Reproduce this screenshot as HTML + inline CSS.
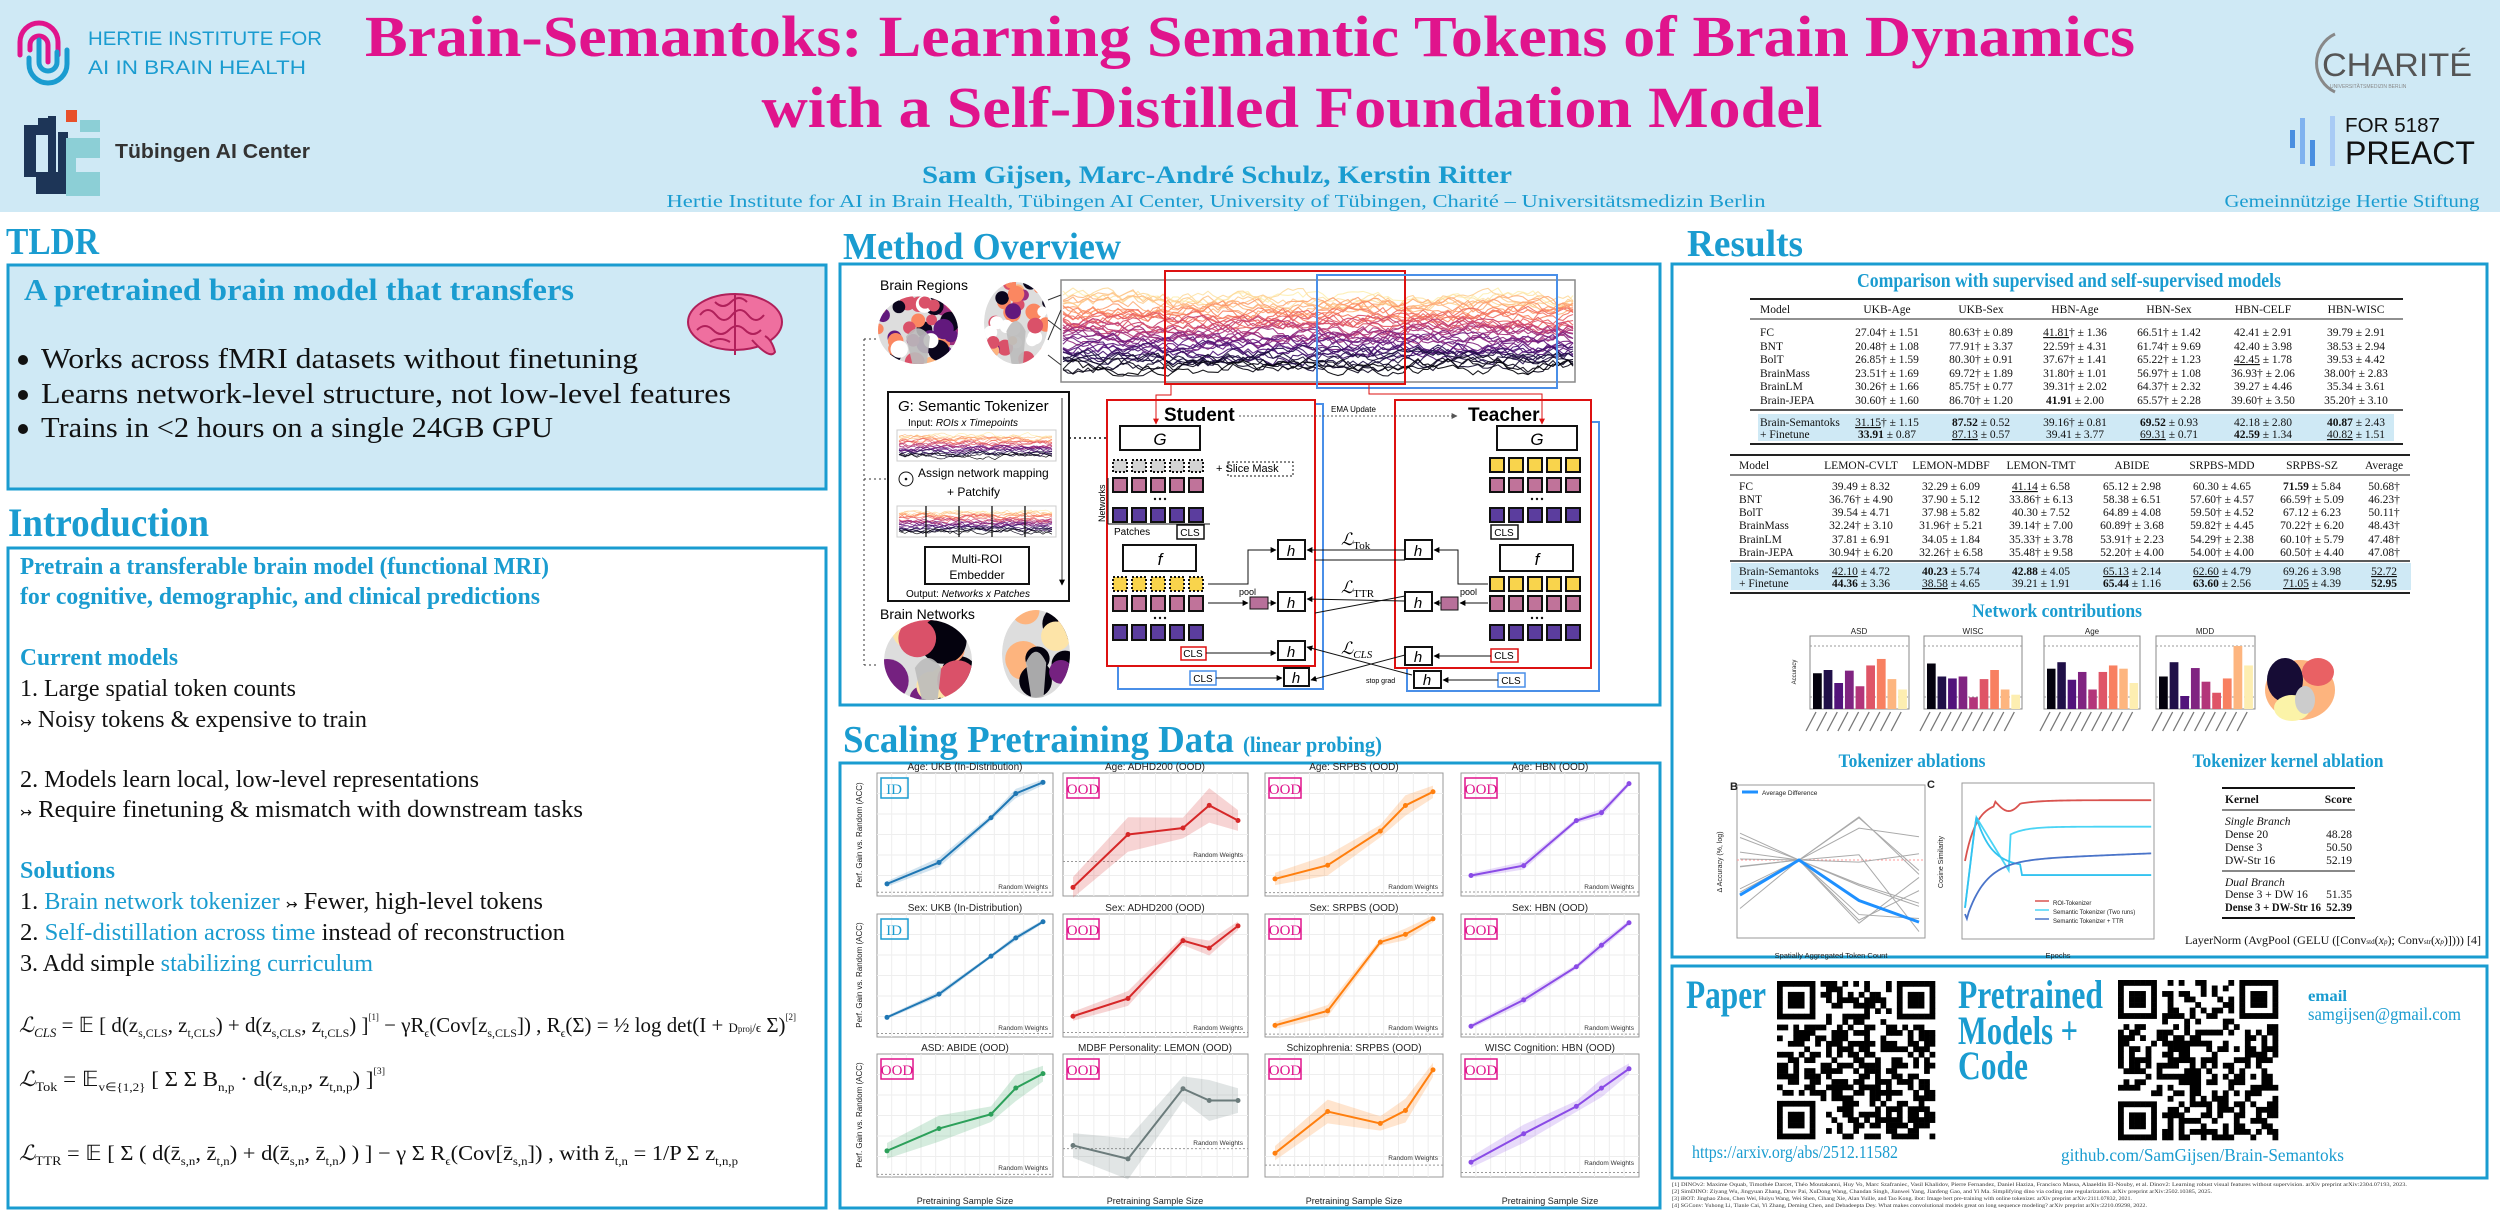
<!DOCTYPE html>
<html><head><meta charset="utf-8"><style>
html,body{margin:0;padding:0;background:#fff;width:2500px;height:1216px;overflow:hidden}
svg{display:block}
</style></head><body>
<svg id="s" xmlns="http://www.w3.org/2000/svg" width="2500" height="1216" viewBox="0 0 2500 1216" font-family="Liberation Serif, serif">
<defs>
<marker id="ar" viewBox="0 0 10 10" refX="9" refY="5" markerWidth="6" markerHeight="6" orient="auto"><path d="M0,0L10,5L0,10z" fill="#000"/></marker>
<marker id="arr" viewBox="0 0 10 10" refX="9" refY="5" markerWidth="6" markerHeight="6" orient="auto"><path d="M0,0L10,5L0,10z" fill="#d11"/></marker>
<marker id="arg" viewBox="0 0 10 10" refX="9" refY="5" markerWidth="6" markerHeight="6" orient="auto"><path d="M0,0L10,5L0,10z" fill="#555"/></marker>
</defs>
<!-- HEADER -->
<rect x="0" y="0" width="2500" height="212" fill="#cfe9f5"/>
<g fill="none" stroke-width="5" stroke-linecap="round">
<path d="M20,55 L20,42 A19,19 0 0 1 58,42 L58,55" stroke="#e0148c"/>
<path d="M30,50 L30,45 A9,9 0 0 1 48,45 L48,62" stroke="#e0148c"/>
<path d="M39,40 L39,62 A9,9 0 0 0 57,62 L57,52" stroke="#1a9cd0"/>
<path d="M29,58 L29,64 A19,19 0 0 0 67,64 L67,50" stroke="#1a9cd0"/>
</g>
<text x="88" y="45" font-family="Liberation Sans, sans-serif" font-size="19" fill="#1a9cd0" textLength="234" lengthAdjust="spacingAndGlyphs">HERTIE INSTITUTE FOR</text>
<text x="88" y="74" font-family="Liberation Sans, sans-serif" font-size="19" fill="#1a9cd0" textLength="218" lengthAdjust="spacingAndGlyphs">AI IN BRAIN HEALTH</text>
<g>
<rect x="24" y="125" width="12" height="52" fill="#1d3557"/><rect x="24" y="125" width="26" height="10" fill="#1d3557"/>
<rect x="38" y="118" width="12" height="14" fill="#1d3557"/><rect x="48" y="116" width="8" height="60" fill="#1d3557"/>
<rect x="36" y="172" width="32" height="22" fill="#1d3557"/><rect x="58" y="132" width="10" height="60" fill="#1d3557"/>
<rect x="66" y="110" width="11" height="12" fill="#e8502a"/>
<rect x="80" y="120" width="20" height="12" fill="#8ccfd6"/><rect x="66" y="138" width="34" height="58" fill="#8ccfd6"/>
<rect x="76" y="158" width="24" height="14" fill="#cfe9f5"/>
</g>
<text x="115" y="158" font-family="Liberation Sans, sans-serif" font-size="20" font-weight="bold" fill="#333" textLength="195" lengthAdjust="spacingAndGlyphs">Tübingen AI Center</text>
<text x="1250" y="56" text-anchor="middle" font-size="58" font-weight="bold" fill="#e0148c" textLength="1770" lengthAdjust="spacingAndGlyphs">Brain-Semantoks: Learning Semantic Tokens of Brain Dynamics</text>
<text x="1292" y="127" text-anchor="middle" font-size="58" font-weight="bold" fill="#e0148c" textLength="1061" lengthAdjust="spacingAndGlyphs">with a Self-Distilled Foundation Model</text>
<text x="1217" y="183" text-anchor="middle" font-size="25" font-weight="bold" fill="#1a9cd0" textLength="590" lengthAdjust="spacingAndGlyphs">Sam Gijsen, Marc-André Schulz, Kerstin Ritter</text>
<text x="1216" y="207" text-anchor="middle" font-size="18" fill="#1a9cd0" textLength="1099" lengthAdjust="spacingAndGlyphs">Hertie Institute for AI in Brain Health, Tübingen AI Center, University of Tübingen,  Charité – Universitätsmedizin Berlin</text>
<text x="2352" y="207" text-anchor="middle" font-size="18" fill="#1a9cd0" textLength="255" lengthAdjust="spacingAndGlyphs">Gemeinnützige Hertie Stiftung</text>
<path d="M2335,34 A32,32 0 0 0 2335,92" fill="none" stroke="#888" stroke-width="3"/>
<text x="2322" y="76" font-family="Liberation Sans, sans-serif" font-size="32" fill="#555" textLength="150" lengthAdjust="spacingAndGlyphs">CHARITÉ</text>
<text x="2330" y="88" font-family="Liberation Sans, sans-serif" font-size="5" fill="#888">UNIVERSITÄTSMEDIZIN BERLIN</text>
<rect x="2290" y="130" width="5" height="18" fill="#4a8fe0"/><rect x="2300" y="118" width="5" height="46" fill="#7fb2ef"/><rect x="2310" y="140" width="5" height="26" fill="#4a8fe0"/><rect x="2330" y="116" width="5" height="50" fill="#a8cbf5"/>
<text x="2345" y="132" font-family="Liberation Sans, sans-serif" font-size="20" fill="#111" textLength="95" lengthAdjust="spacingAndGlyphs">FOR 5187</text>
<text x="2345" y="164" font-family="Liberation Sans, sans-serif" font-size="32" fill="#111" textLength="130" lengthAdjust="spacingAndGlyphs">PREACT</text>

<!-- SECTION TITLES -->
<g font-weight="bold" fill="#1a9cd0">
<text x="6" y="254" font-size="38" textLength="93" lengthAdjust="spacingAndGlyphs">TLDR</text>
<text x="8" y="536" font-size="40" textLength="201" lengthAdjust="spacingAndGlyphs">Introduction</text>
<text x="843" y="259" font-size="38" textLength="278" lengthAdjust="spacingAndGlyphs">Method Overview</text>
<text x="843" y="752" font-size="38" textLength="391" lengthAdjust="spacingAndGlyphs">Scaling Pretraining Data</text>
<text x="1243" y="752" font-size="22" textLength="139" lengthAdjust="spacingAndGlyphs">(linear probing)</text>
<text x="1687" y="256" font-size="38" textLength="116" lengthAdjust="spacingAndGlyphs">Results</text>
</g>

<!-- BOXES -->
<g fill="none" stroke="#1a9cd0" stroke-width="3">
<rect x="8" y="265" width="818" height="224" fill="#cfe9f5"/>
<rect x="8" y="548" width="818" height="660"/>
<rect x="840" y="264" width="820" height="441"/>
<rect x="840" y="763" width="820" height="445"/>
<rect x="1672" y="264" width="815" height="693"/>
<rect x="1672" y="966" width="815" height="212"/>
</g>

<!-- TLDR -->
<text x="24" y="300" font-size="31" font-weight="bold" fill="#1a9cd0" textLength="550" lengthAdjust="spacingAndGlyphs">A pretrained brain model that transfers</text>
<g font-size="28" fill="#111">
<circle cx="23" cy="360" r="5" fill="#111"/><circle cx="23" cy="395" r="5" fill="#111"/><circle cx="23" cy="429" r="5" fill="#111"/>
<text x="41" y="368" textLength="597" lengthAdjust="spacingAndGlyphs">Works across fMRI datasets without finetuning</text>
<text x="41" y="403" textLength="690" lengthAdjust="spacingAndGlyphs">Learns network-level structure, not low-level features</text>
<text x="41" y="437" textLength="512" lengthAdjust="spacingAndGlyphs">Trains in &lt;2 hours on a single 24GB GPU</text>
</g>
<g>
<ellipse cx="735" cy="322" rx="47" ry="28" fill="#ef6f9f" stroke="#b0205a" stroke-width="2"/>
<path d="M752,340 Q770,360 775,352 Q772,340 765,336" fill="#ef6f9f" stroke="#b0205a" stroke-width="2"/>
<path d="M700,315 q8,-10 16,0 q8,10 16,0 q8,-10 16,0 q8,10 16,0 M697,330 q8,-8 16,0 q8,8 16,0 q8,-8 16,0 q8,8 16,0 M715,302 q8,8 16,0 q8,-8 16,0 M735,295 v60 M710,342 q10,-6 20,0" fill="none" stroke="#b0205a" stroke-width="2"/>
</g>

<!-- INTRO -->
<g font-size="24" fill="#1a9cd0" font-weight="bold">
<text x="20" y="574" textLength="529" lengthAdjust="spacingAndGlyphs">Pretrain a transferable brain model (functional MRI)</text>
<text x="20" y="604" textLength="520" lengthAdjust="spacingAndGlyphs">for cognitive, demographic, and clinical predictions</text>
<text x="20" y="665" textLength="158" lengthAdjust="spacingAndGlyphs">Current models</text>
<text x="20" y="878" textLength="95" lengthAdjust="spacingAndGlyphs">Solutions</text>
</g>
<g font-size="24" fill="#111">
<text x="20" y="696" textLength="276" lengthAdjust="spacingAndGlyphs">1. Large spatial token counts</text>
<text x="20" y="727" textLength="347" lengthAdjust="spacingAndGlyphs"><tspan font-family="DejaVu Sans" font-size="14">↣</tspan> Noisy tokens &amp; expensive to train</text>
<text x="20" y="787" textLength="459" lengthAdjust="spacingAndGlyphs">2. Models learn local, low-level representations</text>
<text x="20" y="817" textLength="563" lengthAdjust="spacingAndGlyphs"><tspan font-family="DejaVu Sans" font-size="14">↣</tspan> Require finetuning &amp; mismatch with downstream tasks</text>
<text x="20" y="909" textLength="523" lengthAdjust="spacingAndGlyphs">1. <tspan fill="#1a9cd0">Brain network tokenizer</tspan> <tspan font-family="DejaVu Sans" font-size="14">↣</tspan> Fewer, high-level tokens</text>
<text x="20" y="940" textLength="545" lengthAdjust="spacingAndGlyphs">2. <tspan fill="#1a9cd0">Self-distillation across time</tspan> instead of reconstruction</text>
<text x="20" y="971" textLength="353" lengthAdjust="spacingAndGlyphs">3. Add simple <tspan fill="#1a9cd0">stabilizing curriculum</tspan></text>
</g>
<g font-size="21" fill="#111">
<text x="19" y="1032" textLength="777" lengthAdjust="spacingAndGlyphs"><tspan font-style="italic">ℒ</tspan><tspan font-size="13" dy="5" font-style="italic">CLS</tspan><tspan dy="-5"> = 𝔼 [ d(z</tspan><tspan font-size="12" dy="5">s,CLS</tspan><tspan dy="-5">, z</tspan><tspan font-size="12" dy="5">t,CLS</tspan><tspan dy="-5">) + d(z</tspan><tspan font-size="12" dy="5">s,CLS</tspan><tspan dy="-5">, z</tspan><tspan font-size="12" dy="5">t,CLS</tspan><tspan dy="-5">) ]</tspan><tspan font-size="9" dy="-12">[1]</tspan><tspan dy="12"> − γR</tspan><tspan font-size="12" dy="5">ϵ</tspan><tspan dy="-5">(Cov[z</tspan><tspan font-size="12" dy="5">s,CLS</tspan><tspan dy="-5">]) ,  R</tspan><tspan font-size="12" dy="5">ϵ</tspan><tspan dy="-5">(Σ) = ½ log det(I + </tspan><tspan font-size="13">D</tspan><tspan font-size="9">proj</tspan><tspan font-size="13">/ϵ</tspan><tspan> Σ)</tspan><tspan font-size="9" dy="-12">[2]</tspan></text>
<text x="19" y="1086" textLength="366" lengthAdjust="spacingAndGlyphs"><tspan font-style="italic">ℒ</tspan><tspan font-size="13" dy="5">Tok</tspan><tspan dy="-5"> = 𝔼</tspan><tspan font-size="12" dy="5">v∈{1,2}</tspan><tspan dy="-5"> [ Σ Σ B</tspan><tspan font-size="12" dy="5">n,p</tspan><tspan dy="-5"> · d(z</tspan><tspan font-size="12" dy="5">s,n,p</tspan><tspan dy="-5">, z</tspan><tspan font-size="12" dy="5">t,n,p</tspan><tspan dy="-5">) ]</tspan><tspan font-size="9" dy="-12">[3]</tspan></text>
<text x="19" y="1160" textLength="719" lengthAdjust="spacingAndGlyphs"><tspan font-style="italic">ℒ</tspan><tspan font-size="13" dy="5">TTR</tspan><tspan dy="-5"> = 𝔼 [ Σ ( d(z̄</tspan><tspan font-size="12" dy="5">s,n</tspan><tspan dy="-5">, z̄</tspan><tspan font-size="12" dy="5">t,n</tspan><tspan dy="-5">) + d(z̄</tspan><tspan font-size="12" dy="5">s,n</tspan><tspan dy="-5">, z̄</tspan><tspan font-size="12" dy="5">t,n</tspan><tspan dy="-5">) ) ] − γ Σ R</tspan><tspan font-size="12" dy="5">ϵ</tspan><tspan dy="-5">(Cov[z̄</tspan><tspan font-size="12" dy="5">s,n</tspan><tspan dy="-5">]) , with    z̄</tspan><tspan font-size="12" dy="5">t,n</tspan><tspan dy="-5"> = 1/P Σ z</tspan><tspan font-size="12" dy="5">t,n,p</tspan></text>
</g>

<!-- METHOD FIGURE -->
<g font-family="Liberation Sans, sans-serif">
<text x="880" y="290" font-size="14">Brain Regions</text>
<text x="880" y="619" font-size="14">Brain Networks</text>
<g id="brains"></g>
<rect x="1061" y="280" width="514" height="102" fill="#fff" stroke="#888" stroke-width="1.5"/>
<g id="ts"></g>
<rect x="1165" y="271" width="240" height="113" fill="none" stroke="#d11" stroke-width="2"/>
<rect x="1317" y="275" width="240" height="113" fill="none" stroke="#4a8fe8" stroke-width="2"/>
<path d="M1048,300 L1061,295 M1048,320 L1061,330 M1048,340 L1061,310 M1048,355 L1061,365" stroke="#333" stroke-width="1" fill="none"/>
<line x1="864" y1="339" x2="864" y2="665" stroke="#333" stroke-dasharray="2,3"/>
<line x1="864" y1="339" x2="878" y2="339" stroke="#333" stroke-dasharray="2,3"/>
<line x1="864" y1="665" x2="878" y2="665" stroke="#333" stroke-dasharray="2,3"/>
<line x1="864" y1="479" x2="898" y2="479" stroke="#333" stroke-dasharray="2,3"/>
<!-- tokenizer -->
<rect x="888" y="392" width="181" height="209" fill="#fff" stroke="#111" stroke-width="2"/>
<text x="898" y="411" font-size="15"><tspan font-style="italic">G</tspan>: Semantic Tokenizer</text>
<text x="908" y="426" font-size="10">Input: <tspan font-style="italic">ROIs x Timepoints</tspan></text>
<rect x="897" y="430" width="159" height="31" fill="#fff" stroke="#ccc"/>
<g id="ts2"></g>
<circle cx="906" cy="479" r="7" fill="none" stroke="#111"/><circle cx="906" cy="479" r="1.3" fill="#111"/>
<text x="918" y="477" font-size="12">Assign network mapping</text>
<text x="947" y="496" font-size="12">+ Patchify</text>
<rect x="897" y="506" width="159" height="31" fill="#fff" stroke="#ccc"/>
<g id="ts3"></g>
<path d="M926,506v31M959,506v31M992,506v31M1025,506v31" stroke="#111" stroke-width="1.3"/>
<rect x="925" y="547" width="104" height="37" fill="#fff" stroke="#111" stroke-width="2"/>
<text x="977" y="563" font-size="12" text-anchor="middle">Multi-ROI</text>
<text x="977" y="579" font-size="12" text-anchor="middle">Embedder</text>
<text x="906" y="597" font-size="10">Output: <tspan font-style="italic">Networks x Patches</tspan></text>
<line x1="1062" y1="398" x2="1062" y2="585" stroke="#333" marker-end="url(#ar)"/>
<line x1="1069" y1="438" x2="1120" y2="438" stroke="#111" stroke-dasharray="2,3" stroke-width="1.5"/>
<!-- student/teacher frames -->
<rect x="1118" y="404" width="205" height="285" fill="none" stroke="#4a8fe8" stroke-width="2"/>
<rect x="1107" y="400" width="208" height="266" fill="#fff" stroke="#d11" stroke-width="2"/>
<rect x="1407" y="422" width="192" height="269" fill="none" stroke="#4a8fe8" stroke-width="2"/>
<rect x="1395" y="400" width="196" height="268" fill="#fff" stroke="#d11" stroke-width="2"/>
<path d="M1171,384 V395 H1156 V424" stroke="#d11" fill="none" marker-end="url(#arr)"/>
<path d="M1369,384 V394 H1542 V424" stroke="#d11" fill="none" marker-end="url(#arr)"/>
<text x="1164" y="421" font-size="19" font-weight="bold">Student</text>
<text x="1468" y="421" font-size="19" font-weight="bold">Teacher</text>
<text x="1331" y="412" font-size="8">EMA Update</text>
<line x1="1239" y1="416" x2="1457" y2="416" stroke="#555" stroke-dasharray="2,2" marker-end="url(#arg)"/>
<g fill="#fff" stroke="#111" stroke-width="2">
<rect x="1120" y="426" width="80" height="24"/><rect x="1497" y="426" width="80" height="24"/>
<rect x="1123" y="545" width="73" height="26"/><rect x="1500" y="545" width="73" height="26"/>
</g>
<text x="1160" y="445" font-size="17" font-style="italic" text-anchor="middle">G</text>
<text x="1537" y="445" font-size="17" font-style="italic" text-anchor="middle">G</text>
<text x="1160" y="565" font-size="17" font-style="italic" text-anchor="middle">f</text>
<text x="1537" y="565" font-size="17" font-style="italic" text-anchor="middle">f</text>
<g id="sq"></g>
<text x="1105" y="522" font-size="9" transform="rotate(-90 1105 522)">Networks</text>
<line x1="1108" y1="478" x2="1108" y2="524" stroke="#111"/>
<line x1="1108" y1="524" x2="1210" y2="524" stroke="#111"/>
<text x="1216" y="472" font-size="11">+ <tspan>Slice Mask</tspan></text>
<rect x="1228" y="462" width="65" height="14" fill="none" stroke="#111" stroke-dasharray="2,2"/>
<text x="1114" y="535" font-size="10">Patches</text>
<g font-size="10" text-anchor="middle">
<rect x="1177" y="525" width="27" height="14" fill="#fff" stroke="#111" stroke-width="1.5"/><text x="1190" y="536">CLS</text>
<rect x="1491" y="525" width="27" height="14" fill="#fff" stroke="#111" stroke-width="1.5"/><text x="1504" y="536">CLS</text>
<rect x="1181" y="647" width="25" height="13" fill="#fff" stroke="#d11" stroke-width="1.5"/><text x="1193" y="657">CLS</text>
<rect x="1491" y="649" width="27" height="13" fill="#fff" stroke="#d11" stroke-width="1.5"/><text x="1504" y="659">CLS</text>
<rect x="1190" y="671" width="26" height="14" fill="#fff" stroke="#4a8fe8" stroke-width="1.5"/><text x="1203" y="682">CLS</text>
<rect x="1498" y="673" width="27" height="14" fill="#fff" stroke="#4a8fe8" stroke-width="1.5"/><text x="1511" y="684">CLS</text>
</g>
<g fill="#fff" stroke="#111" stroke-width="2">
<rect x="1278" y="540" width="27" height="19"/><rect x="1278" y="592" width="27" height="19"/><rect x="1278" y="641" width="27" height="19"/><rect x="1284" y="668" width="25" height="18"/>
<rect x="1405" y="540" width="27" height="19"/><rect x="1405" y="592" width="27" height="19"/><rect x="1405" y="647" width="27" height="18"/><rect x="1414" y="671" width="27" height="17"/>
</g>
<g font-size="15" font-style="italic" text-anchor="middle">
<text x="1291" y="556">h</text><text x="1291" y="608">h</text><text x="1291" y="657">h</text><text x="1296" y="683">h</text>
<text x="1418" y="556">h</text><text x="1418" y="608">h</text><text x="1418" y="662">h</text><text x="1427" y="685">h</text>
</g>
<rect x="1250" y="597" width="18" height="12" fill="#b8709a" stroke="#111"/>
<rect x="1441" y="597" width="17" height="13" fill="#b8709a" stroke="#111"/>
<text x="1239" y="595" font-size="9">pool</text><text x="1460" y="595" font-size="9">pool</text>
<g stroke="#111" fill="none" stroke-width="1">
<path d="M1208,584 H1248 V550 H1276" marker-end="url(#ar)"/>
<path d="M1208,603 H1248" marker-end="url(#ar)"/><path d="M1268,603 H1276" marker-end="url(#ar)"/>
<path d="M1206,653 H1276" marker-end="url(#ar)"/>
<path d="M1216,678 H1282" marker-end="url(#ar)"/>
<path d="M1488,584 H1458 V550 H1434" marker-end="url(#ar)"/>
<path d="M1488,603 H1460" marker-end="url(#ar)"/><path d="M1441,603 H1434" marker-end="url(#ar)"/>
<path d="M1491,656 H1434" marker-end="url(#ar)"/>
<path d="M1498,680 H1443" marker-end="url(#ar)"/>
<path d="M1405,550 H1307" marker-end="url(#ar)"/><path d="M1315,560 H1405"/>
<path d="M1405,601 L1307,599" marker-end="url(#ar)"/><path d="M1315,613 L1405,596"/>
<path d="M1412,675 L1307,647" marker-end="url(#ar)"/><path d="M1405,655 L1311,680" marker-end="url(#ar)"/>
</g>
<text x="1341" y="545" font-size="17" font-family="Liberation Serif, serif" font-style="italic">ℒ<tspan font-size="11" font-style="normal" dy="4">Tok</tspan></text>
<text x="1341" y="593" font-size="17" font-family="Liberation Serif, serif" font-style="italic">ℒ<tspan font-size="11" font-style="normal" dy="4">TTR</tspan></text>
<text x="1341" y="654" font-size="17" font-family="Liberation Serif, serif" font-style="italic">ℒ<tspan font-size="11" dy="4">CLS</tspan></text>
<text x="1366" y="683" font-size="7">stop grad</text>
</g>

<!-- SCALING PANELS -->
<g id="scal" font-family="Liberation Sans, sans-serif"></g>
<g font-family="Liberation Sans, sans-serif" font-size="10" text-anchor="middle" fill="#222">
<text x="965" y="770">Age: UKB (In-Distribution)</text><text x="1155" y="770">Age: ADHD200 (OOD)</text><text x="1354" y="770">Age: SRPBS (OOD)</text><text x="1550" y="770">Age: HBN (OOD)</text>
<text x="965" y="911">Sex: UKB (In-Distribution)</text><text x="1155" y="911">Sex: ADHD200 (OOD)</text><text x="1354" y="911">Sex: SRPBS (OOD)</text><text x="1550" y="911">Sex: HBN (OOD)</text>
<text x="965" y="1051">ASD: ABIDE (OOD)</text><text x="1155" y="1051">MDBF Personality: LEMON (OOD)</text><text x="1354" y="1051">Schizophrenia: SRPBS (OOD)</text><text x="1550" y="1051">WISC Cognition: HBN (OOD)</text>
<text x="965" y="1204" font-size="9">Pretraining Sample Size</text><text x="1155" y="1204" font-size="9">Pretraining Sample Size</text><text x="1354" y="1204" font-size="9">Pretraining Sample Size</text><text x="1550" y="1204" font-size="9">Pretraining Sample Size</text>
<text x="862" y="835" font-size="8" transform="rotate(-90 862 835)">Perf. Gain vs. Random (ACC)</text>
<text x="862" y="975" font-size="8" transform="rotate(-90 862 975)">Perf. Gain vs. Random (ACC)</text>
<text x="862" y="1115" font-size="8" transform="rotate(-90 862 1115)">Perf. Gain vs. Random (ACC)</text>
</g>
<g font-family="Liberation Sans, sans-serif" font-size="6.5" text-anchor="end" fill="#333">
<text x="1048" y="889">Random Weights</text><text x="1243" y="857">Random Weights</text><text x="1438" y="889">Random Weights</text><text x="1634" y="889">Random Weights</text>
<text x="1048" y="1030">Random Weights</text><text x="1243" y="1030">Random Weights</text><text x="1438" y="1030">Random Weights</text><text x="1634" y="1030">Random Weights</text>
<text x="1048" y="1170">Random Weights</text><text x="1243" y="1145">Random Weights</text><text x="1438" y="1160">Random Weights</text><text x="1634" y="1165">Random Weights</text>
</g>
<g font-size="15" text-anchor="middle">
<g fill="none" stroke-width="1.5">
<rect x="881" y="778" width="27" height="20" stroke="#1a9cd0"/><rect x="1067" y="778" width="32" height="20" stroke="#e0148c"/><rect x="1269" y="778" width="32" height="20" stroke="#e0148c"/><rect x="1465" y="778" width="32" height="20" stroke="#e0148c"/>
<rect x="881" y="919" width="27" height="20" stroke="#1a9cd0"/><rect x="1067" y="919" width="32" height="20" stroke="#e0148c"/><rect x="1269" y="919" width="32" height="20" stroke="#e0148c"/><rect x="1465" y="919" width="32" height="20" stroke="#e0148c"/>
<rect x="881" y="1059" width="32" height="20" stroke="#e0148c"/><rect x="1067" y="1059" width="32" height="20" stroke="#e0148c"/><rect x="1269" y="1059" width="32" height="20" stroke="#e0148c"/><rect x="1465" y="1059" width="32" height="20" stroke="#e0148c"/>
</g>
<text x="894" y="794" fill="#1a9cd0">ID</text><text x="1083" y="794" fill="#e0148c">OOD</text><text x="1285" y="794" fill="#e0148c">OOD</text><text x="1481" y="794" fill="#e0148c">OOD</text>
<text x="894" y="935" fill="#1a9cd0">ID</text><text x="1083" y="935" fill="#e0148c">OOD</text><text x="1285" y="935" fill="#e0148c">OOD</text><text x="1481" y="935" fill="#e0148c">OOD</text>
<text x="897" y="1075" fill="#e0148c">OOD</text><text x="1083" y="1075" fill="#e0148c">OOD</text><text x="1285" y="1075" fill="#e0148c">OOD</text><text x="1481" y="1075" fill="#e0148c">OOD</text>
</g>

<!-- RESULTS -->
<text x="2069" y="287" text-anchor="middle" font-size="20" fill="#1a9cd0" font-weight="bold" textLength="424" lengthAdjust="spacingAndGlyphs">Comparison with supervised and self-supervised models</text>
<rect x="1758" y="414" width="636" height="27" fill="#cfe9f5"/>
<rect x="1731" y="563" width="680" height="27" fill="#cfe9f5"/>
<g stroke="#222">
<line x1="1750" y1="299" x2="2403" y2="299" stroke-width="2"/><line x1="1750" y1="319" x2="2403" y2="319"/><line x1="1750" y1="410" x2="2403" y2="410" stroke-width="1.5"/><line x1="1750" y1="444" x2="2403" y2="444" stroke-width="2"/>
<line x1="1730" y1="455" x2="2410" y2="455" stroke-width="2"/><line x1="1730" y1="475" x2="2410" y2="475"/><line x1="1730" y1="561" x2="2410" y2="561" stroke-width="1.5"/><line x1="1730" y1="593" x2="2410" y2="593" stroke-width="2"/>
</g>
<g font-size="11.5" fill="#111">
<g text-anchor="start"><text x="1760" y="313">Model</text><text x="1760" y="336">FC</text><text x="1760" y="350">BNT</text><text x="1760" y="363">BolT</text><text x="1760" y="377">BrainMass</text><text x="1760" y="390">BrainLM</text><text x="1760" y="404">Brain-JEPA</text><text x="1760" y="426">Brain-Semantoks</text><text x="1760" y="438">+ Finetune</text></g>
<g text-anchor="middle">
<text x="1887" y="313">UKB-Age</text><text x="1981" y="313">UKB-Sex</text><text x="2075" y="313">HBN-Age</text><text x="2169" y="313">HBN-Sex</text><text x="2263" y="313">HBN-CELF</text><text x="2356" y="313">HBN-WISC</text>
<text x="1887" y="336">27.04† ± 1.51</text><text x="1981" y="336">80.63† ± 0.89</text><text x="2075" y="336"><tspan text-decoration="underline">41.81</tspan>† ± 1.36</text><text x="2169" y="336">66.51† ± 1.42</text><text x="2263" y="336">42.41 ± 2.91</text><text x="2356" y="336">39.79 ± 2.91</text>
<text x="1887" y="350">20.48† ± 1.08</text><text x="1981" y="350">77.91† ± 3.37</text><text x="2075" y="350">22.59† ± 4.31</text><text x="2169" y="350">61.74† ± 9.69</text><text x="2263" y="350">42.40 ± 3.98</text><text x="2356" y="350">38.53 ± 2.94</text>
<text x="1887" y="363">26.85† ± 1.59</text><text x="1981" y="363">80.30† ± 0.91</text><text x="2075" y="363">37.67† ± 1.41</text><text x="2169" y="363">65.22† ± 1.23</text><text x="2263" y="363"><tspan text-decoration="underline">42.45</tspan> ± 1.78</text><text x="2356" y="363">39.53 ± 4.42</text>
<text x="1887" y="377">23.51† ± 1.69</text><text x="1981" y="377">69.72† ± 1.89</text><text x="2075" y="377">31.80† ± 1.01</text><text x="2169" y="377">56.97† ± 1.08</text><text x="2263" y="377">36.93† ± 2.06</text><text x="2356" y="377">38.00† ± 2.83</text>
<text x="1887" y="390">30.26† ± 1.66</text><text x="1981" y="390">85.75† ± 0.77</text><text x="2075" y="390">39.31† ± 2.02</text><text x="2169" y="390">64.37† ± 2.32</text><text x="2263" y="390">39.27 ± 4.46</text><text x="2356" y="390">35.34 ± 3.61</text>
<text x="1887" y="404">30.60† ± 1.60</text><text x="1981" y="404">86.70† ± 1.20</text><text x="2075" y="404"><tspan font-weight="bold">41.91</tspan> ± 2.00</text><text x="2169" y="404">65.57† ± 2.28</text><text x="2263" y="404">39.60† ± 3.50</text><text x="2356" y="404">35.20† ± 3.10</text>
<text x="1887" y="426"><tspan text-decoration="underline">31.15</tspan>† ± 1.15</text><text x="1981" y="426"><tspan font-weight="bold">87.52</tspan> ± 0.52</text><text x="2075" y="426">39.16† ± 0.81</text><text x="2169" y="426"><tspan font-weight="bold">69.52</tspan> ± 0.93</text><text x="2263" y="426">42.18 ± 2.80</text><text x="2356" y="426"><tspan font-weight="bold">40.87</tspan> ± 2.43</text>
<text x="1887" y="438"><tspan font-weight="bold">33.91</tspan> ± 0.87</text><text x="1981" y="438"><tspan text-decoration="underline">87.13</tspan> ± 0.57</text><text x="2075" y="438">39.41 ± 3.77</text><text x="2169" y="438"><tspan text-decoration="underline">69.31</tspan> ± 0.71</text><text x="2263" y="438"><tspan font-weight="bold">42.59</tspan> ± 1.34</text><text x="2356" y="438"><tspan text-decoration="underline">40.82</tspan> ± 1.51</text>
</g>
<g text-anchor="start"><text x="1739" y="469">Model</text><text x="1739" y="490">FC</text><text x="1739" y="503">BNT</text><text x="1739" y="516">BolT</text><text x="1739" y="529">BrainMass</text><text x="1739" y="543">BrainLM</text><text x="1739" y="556">Brain-JEPA</text><text x="1739" y="575">Brain-Semantoks</text><text x="1739" y="587">+ Finetune</text></g>
<g text-anchor="middle">
<text x="1861" y="469">LEMON-CVLT</text><text x="1951" y="469">LEMON-MDBF</text><text x="2041" y="469">LEMON-TMT</text><text x="2132" y="469">ABIDE</text><text x="2222" y="469">SRPBS-MDD</text><text x="2312" y="469">SRPBS-SZ</text><text x="2384" y="469">Average</text>
<text x="1861" y="490">39.49 ± 8.32</text><text x="1951" y="490">32.29 ± 6.09</text><text x="2041" y="490"><tspan text-decoration="underline">41.14</tspan> ± 6.58</text><text x="2132" y="490">65.12 ± 2.98</text><text x="2222" y="490">60.30 ± 4.65</text><text x="2312" y="490"><tspan font-weight="bold">71.59</tspan> ± 5.84</text><text x="2384" y="490">50.68†</text>
<text x="1861" y="503">36.76† ± 4.90</text><text x="1951" y="503">37.90 ± 5.12</text><text x="2041" y="503">33.86† ± 6.13</text><text x="2132" y="503">58.38 ± 6.51</text><text x="2222" y="503">57.60† ± 4.57</text><text x="2312" y="503">66.59† ± 5.09</text><text x="2384" y="503">46.23†</text>
<text x="1861" y="516">39.54 ± 4.71</text><text x="1951" y="516">37.98 ± 5.82</text><text x="2041" y="516">40.30 ± 7.52</text><text x="2132" y="516">64.89 ± 4.08</text><text x="2222" y="516">59.50† ± 4.52</text><text x="2312" y="516">67.12 ± 6.23</text><text x="2384" y="516">50.11†</text>
<text x="1861" y="529">32.24† ± 3.10</text><text x="1951" y="529">31.96† ± 5.21</text><text x="2041" y="529">39.14† ± 7.00</text><text x="2132" y="529">60.89† ± 3.68</text><text x="2222" y="529">59.82† ± 4.45</text><text x="2312" y="529">70.22† ± 6.20</text><text x="2384" y="529">48.43†</text>
<text x="1861" y="543">37.81 ± 6.91</text><text x="1951" y="543">34.05 ± 1.84</text><text x="2041" y="543">35.33† ± 3.78</text><text x="2132" y="543">53.91† ± 2.23</text><text x="2222" y="543">54.29† ± 2.38</text><text x="2312" y="543">60.10† ± 5.79</text><text x="2384" y="543">47.48†</text>
<text x="1861" y="556">30.94† ± 6.20</text><text x="1951" y="556">32.26† ± 6.58</text><text x="2041" y="556">35.48† ± 9.58</text><text x="2132" y="556">52.20† ± 4.00</text><text x="2222" y="556">54.00† ± 4.00</text><text x="2312" y="556">60.50† ± 4.40</text><text x="2384" y="556">47.08†</text>
<text x="1861" y="575"><tspan text-decoration="underline">42.10</tspan> ± 4.72</text><text x="1951" y="575"><tspan font-weight="bold">40.23</tspan> ± 5.74</text><text x="2041" y="575"><tspan font-weight="bold">42.88</tspan> ± 4.05</text><text x="2132" y="575"><tspan text-decoration="underline">65.13</tspan> ± 2.14</text><text x="2222" y="575"><tspan text-decoration="underline">62.60</tspan> ± 4.79</text><text x="2312" y="575">69.26 ± 3.98</text><text x="2384" y="575" text-decoration="underline">52.72</text>
<text x="1861" y="587"><tspan font-weight="bold">44.36</tspan> ± 3.36</text><text x="1951" y="587"><tspan text-decoration="underline">38.58</tspan> ± 4.65</text><text x="2041" y="587">39.21 ± 1.91</text><text x="2132" y="587"><tspan font-weight="bold">65.44</tspan> ± 1.16</text><text x="2222" y="587"><tspan font-weight="bold">63.60</tspan> ± 2.56</text><text x="2312" y="587"><tspan text-decoration="underline">71.05</tspan> ± 4.39</text><text x="2384" y="587" font-weight="bold">52.95</text>
</g>
</g>
<g font-weight="bold" fill="#1a9cd0" font-size="19" text-anchor="middle">
<text x="2057" y="617" textLength="170" lengthAdjust="spacingAndGlyphs">Network contributions</text>
<text x="1912" y="767" textLength="147" lengthAdjust="spacingAndGlyphs">Tokenizer ablations</text>
<text x="2288" y="767" textLength="191" lengthAdjust="spacingAndGlyphs">Tokenizer kernel ablation</text>
</g>
<g id="bars" font-family="Liberation Sans, sans-serif"></g>
<g font-family="Liberation Sans, sans-serif" font-size="8" text-anchor="middle" fill="#222">
<text x="1859" y="634">ASD</text><text x="1973" y="634">WISC</text><text x="2092" y="634">Age</text><text x="2205" y="634">MDD</text>
<text x="1796" y="672" font-size="6" transform="rotate(-90 1796 672)">Accuracy</text>
</g>
<g id="lines" font-family="Liberation Sans, sans-serif"></g>
<g font-family="Liberation Sans, sans-serif" fill="#222">
<text x="1730" y="790" font-size="11" font-weight="bold">B</text><text x="1927" y="788" font-size="11" font-weight="bold">C</text>
<text x="1762" y="795" font-size="6.5">Average Difference</text>
<text x="1831" y="958" font-size="7.5" text-anchor="middle">Spatially Aggregated Token Count</text>
<text x="1722" y="862" font-size="7" text-anchor="middle" transform="rotate(-90 1722 862)">Δ Accuracy (%, log)</text>
<text x="2058" y="958" font-size="7.5" text-anchor="middle">Epochs</text>
<text x="1943" y="862" font-size="7" text-anchor="middle" transform="rotate(-90 1943 862)">Cosine Similarity</text>
<text x="2053" y="905" font-size="6">ROI-Tokenizer</text><text x="2053" y="914" font-size="6">Semantic Tokenizer (Two runs)</text><text x="2053" y="923" font-size="6">Semantic Tokenizer + TTR</text>
</g>
<g font-size="11.5" fill="#111">
<line x1="2222" y1="788" x2="2355" y2="788" stroke="#111" stroke-width="2"/><line x1="2222" y1="810" x2="2355" y2="810" stroke="#111"/><line x1="2222" y1="871" x2="2355" y2="871" stroke="#111"/><line x1="2222" y1="918" x2="2355" y2="918" stroke="#111" stroke-width="2"/>
<text x="2225" y="803" font-weight="bold">Kernel</text><text x="2352" y="803" font-weight="bold" text-anchor="end">Score</text>
<text x="2225" y="825" font-style="italic">Single Branch</text>
<text x="2225" y="838">Dense 20</text><text x="2352" y="838" text-anchor="end">48.28</text>
<text x="2225" y="851">Dense 3</text><text x="2352" y="851" text-anchor="end">50.50</text>
<text x="2225" y="864">DW-Str 16</text><text x="2352" y="864" text-anchor="end">52.19</text>
<text x="2225" y="886" font-style="italic">Dual Branch</text>
<text x="2225" y="898">Dense 3 + DW 16</text><text x="2352" y="898" text-anchor="end">51.35</text>
<text x="2225" y="911" font-weight="bold" textLength="96" lengthAdjust="spacingAndGlyphs">Dense 3 + DW-Str 16</text><text x="2352" y="911" text-anchor="end" font-weight="bold">52.39</text>
<text x="2185" y="944" font-size="12" textLength="296" lengthAdjust="spacingAndGlyphs">LayerNorm (AvgPool (GELU ([Conv<tspan font-size="7">std</tspan>(<tspan font-style="italic">x<tspan font-size="7">p</tspan></tspan>); Conv<tspan font-size="7">str</tspan>(<tspan font-style="italic">x<tspan font-size="7">p</tspan></tspan>)]))) [4]</text>
</g>

<!-- PAPER BOX -->
<g font-weight="bold" fill="#1a9cd0">
<text x="1686" y="1008" font-size="40" textLength="80" lengthAdjust="spacingAndGlyphs">Paper</text>
<text x="1958" y="1008" font-size="40" textLength="145" lengthAdjust="spacingAndGlyphs">Pretrained</text>
<text x="1958" y="1044" font-size="40" textLength="120" lengthAdjust="spacingAndGlyphs">Models +</text>
<text x="1958" y="1079" font-size="40" textLength="70" lengthAdjust="spacingAndGlyphs">Code</text>
<text x="2308" y="1001" font-size="16" textLength="39" lengthAdjust="spacingAndGlyphs">email</text>
</g>
<g fill="#1a9cd0" font-size="18">
<text x="2308" y="1020" textLength="153" lengthAdjust="spacingAndGlyphs">samgijsen@gmail.com</text>
<text x="1692" y="1158" textLength="206" lengthAdjust="spacingAndGlyphs">https://arxiv.org/abs/2512.11582</text>
<text x="2061" y="1161" textLength="283" lengthAdjust="spacingAndGlyphs">github.com/SamGijsen/Brain-Semantoks</text>
</g>
<g id="qr"></g>
<g font-size="5.5" fill="#333">
<text x="1672" y="1186" textLength="735" lengthAdjust="spacingAndGlyphs">[1] DINOv2: Maxime Oquab, Timothée Darcet, Théo Moutakanni, Huy Vo, Marc Szafraniec, Vasil Khalidov, Pierre Fernandez, Daniel Haziza, Francisco Massa, Alaaeldin El-Nouby, et al. Dinov2: Learning robust visual features without supervision. arXiv preprint arXiv:2304.07193, 2023.</text>
<text x="1672" y="1193" textLength="540" lengthAdjust="spacingAndGlyphs">[2] SimDINO: Ziyang Wu, Jingyuan Zhang, Druv Pai, XuDong Wang, Chandan Singh, Jianwei Yang, Jianfeng Gao, and Yi Ma. Simplifying dino via coding rate regularization. arXiv preprint arXiv:2502.10385, 2025.</text>
<text x="1672" y="1200" textLength="460" lengthAdjust="spacingAndGlyphs">[3] iBOT: Jinghao Zhou, Chen Wei, Huiyu Wang, Wei Shen, Cihang Xie, Alan Yuille, and Tao Kong. ibot: Image bert pre-training with online tokenizer. arXiv preprint arXiv:2111.07832, 2021.</text>
<text x="1672" y="1207" textLength="475" lengthAdjust="spacingAndGlyphs">[4] SGConv: Yuhong Li, Tianle Cai, Yi Zhang, Deming Chen, and Debadeepta Dey. What makes convolutional models great on long sequence modeling? arXiv preprint arXiv:2210.09298, 2022.</text>
</g>
</svg>
<script>
const NS='http://www.w3.org/2000/svg';
function E(t,a,p){const e=document.createElementNS(NS,t);for(const k in a)e.setAttribute(k,a[k]);p.appendChild(e);return e;}
let seed=7;function R(){seed=(seed*16807)%2147483647;return (seed-1)/2147483646;}
const MS=[[0,[0,0,4]],[.13,[28,16,68]],[.25,[79,18,123]],[.38,[129,37,129]],[.5,[181,54,122]],[.63,[229,89,100]],[.75,[251,135,97]],[.88,[254,194,135]],[1,[252,253,191]]];
function magma(t){t=Math.max(0,Math.min(1,t));for(let i=1;i<MS.length;i++){if(t<=MS[i][0]){const a=MS[i-1],b=MS[i],f=(t-a[0])/(b[0]-a[0]);const c=a[1].map((v,j)=>Math.round(v+(b[1][j]-v)*f));return `rgb(${c})`;}}return 'rgb(252,253,191)';}
function ts(g,x0,x1,y0,y1,n,amp,step,sw){for(let i=0;i<n;i++){const base=y0+(y1-y0)*(i/(n-1));let v=0,pts=[];for(let x=x0;x<=x1;x+=step){v=v*0.75+(R()-0.5)*amp;pts.push(x.toFixed(1)+','+Math.max(y0-8,Math.min(y1+8,base+v)).toFixed(1));}E('polyline',{points:pts.join(' '),fill:'none',stroke:magma(0.97-0.97*i/(n-1)),'stroke-width':sw,opacity:.9},g);}}
ts(document.getElementById('ts'),1063,1573,296,368,45,10,5,1.1);
ts(document.getElementById('ts2'),899,1054,436,456,25,4,3,0.7);
ts(document.getElementById('ts3'),899,1054,512,532,25,4,3,0.7);
const bg=document.getElementById('brains');const defs=document.querySelector('defs');
function brain(id,cx,cy,rx,ry,cols,big){const cp=E('clipPath',{id},defs);E('ellipse',{cx,cy,rx,ry},cp);const g=E('g',{'clip-path':`url(#${id})`},bg);E('ellipse',{cx,cy,rx,ry,fill:'#ddd'},g);const k=big?12:40;for(let i=0;i<k;i++){E('circle',{cx:cx-rx+R()*2*rx,cy:cy-ry+R()*2*ry,r:(big?rx*0.45:rx*0.22)*(0.6+R()*0.6),fill:cols[Math.floor(R()*cols.length)]},g);}E('path',{d:`M${cx-rx*0.3},${cy+ry*0.2} q${rx*0.3},-${ry*0.5} ${rx*0.6},0 l-${rx*0.1},${ry} h-${rx*0.3}z`,fill:'#bbb',opacity:.9},g);}
const mc=[magma(.05),magma(.3),magma(.45),magma(.6),magma(.75),magma(.85),'#fff'];
brain('b1',918,330,40,34,mc,false);brain('b2',1016,323,32,41,mc,false);
brain('b3',928,660,44,40,[magma(.02),magma(.35),magma(.6),magma(.8),magma(.95)],true);brain('b4',1036,654,34,44,[magma(.02),magma(.35),magma(.7),magma(.85),magma(.95)],true);
const sq=document.getElementById('sq');
function row(x0,y,h,fill,dash){for(let i=0;i<5;i++){const a={x:x0+i*19,y,width:14,height:h,fill,stroke:'#111','stroke-width':2};if(dash)a['stroke-dasharray']='2,2';E('rect',a,sq);}}
row(1113,460,12,'#d4d4d4',1);row(1113,478,14,'#c0739a');row(1113,508,14,'#5b3d9e');
row(1113,577,14,'#f9d44c',1);row(1113,596,15,'#c0739a');row(1113,625,15,'#5b3d9e');
row(1490,458,14,'#f9d44c');row(1490,478,14,'#c0739a');row(1490,508,14,'#5b3d9e');
row(1490,577,14,'#f9d44c');row(1490,596,15,'#c0739a');row(1490,625,15,'#5b3d9e');
[[1160,499],[1160,618],[1537,499],[1537,618]].forEach(p=>{for(let i=-1;i<=1;i++)E('circle',{cx:p[0]+i*5,cy:p[1],r:1.2,fill:'#111'},sq);});
const sc=document.getElementById('scal');
const cx=[[877,176],[1063,185],[1265,178],[1461,178]],ry=[773,914,1054],H=123;
const D=[[[.45,1.6,4,5.3,5.9],[-0.2,6.4],'#1f77b4',.25],[[-1.2,1.25,1.55,2.6,1.9],[-1.6,4.1],'#d62728',.8],[[.8,1.6,3.6,5.1,5.9],[-0.2,7],'#ff7f0e',.6],[[1.25,2,5.4,6,8.2],[-0.3,9],'#8a4be6',.3],
[[2.3,5.6,11,13.6,15.9],[-0.5,17],'#1f77b4',.4],[[1.1,2.3,6.2,5.7,7.2],[-0.3,8],'#d62728',.5],[[.9,2.4,9.5,10.3,11.9],[-0.3,12.4],'#ff7f0e',.6],[[.8,3.5,6.9,9.1,11.4],[-0.3,12.3],'#8a4be6',.4],
[[.9,1.75,2.3,3.3,3.85],[-0.1,4.6],'#2ca05a',.5],[[.2,-.65,3.8,3.05,3.05],[-1.8,6],'#6b7b7b',1.3],[[.6,2.7,2.1,2.75,4.8],[-0.6,5.6],'#ff7f0e',.6],[[.45,1.7,2.9,3.7,4.55],[-0.2,5.2],'#8a4be6',.4]];
const lx=[0,1,2,2.477,3];
D.forEach((d,k)=>{const c=k%4,r=Math.floor(k/4);const x0=cx[c][0],w=cx[c][1],y0=ry[r];
E('rect',{x:x0,y:y0,width:w,height:H,fill:'#fff',stroke:'#999','stroke-width':1},sc);
for(let i=1;i<12;i++)E('line',{x1:x0+i*w/12,y1:y0,x2:x0+i*w/12,y2:y0+H,stroke:'#eee'},sc);
for(let i=1;i<6;i++)E('line',{x1:x0,y1:y0+i*H/6,x2:x0+w,y2:y0+i*H/6,stroke:'#eee'},sc);
const X=t=>x0+10+t/3*(w-20),Y=v=>y0+H-(v-d[1][0])/(d[1][1]-d[1][0])*H;
E('line',{x1:x0,y1:Y(0),x2:x0+w,y2:Y(0),stroke:'#999','stroke-dasharray':'2,2'},sc);
const up=d[0].map((v,i)=>X(lx[i])+','+Y(v+d[3]*(0.6+0.4*(i%2)))),dn=d[0].map((v,i)=>X(lx[i])+','+Y(v-d[3]*(0.6+0.4*(i%2)))).reverse();
E('polygon',{points:up.concat(dn).join(' '),fill:d[2],opacity:.2},sc);
E('polyline',{points:d[0].map((v,i)=>X(lx[i])+','+Y(v)).join(' '),fill:'none',stroke:d[2],'stroke-width':2},sc);
d[0].forEach((v,i)=>E('circle',{cx:X(lx[i]),cy:Y(v),r:2.5,fill:d[2]},sc));
});
const bb=document.getElementById('bars');
const BX=[[1810,99],[1924,98],[2044,96],[2156,99]];
const BV=[[.55,.6,.4,.59,.35,.67,.77,.46,.3],[.7,.5,.47,.5,.18,.46,.6,.3,.22],[.62,.72,.45,.57,.3,.57,.67,.62,.4],[.5,.72,.2,.63,.42,.25,.47,.97,.67]];
BX.forEach((b,k)=>{const y0=636,h=73;E('rect',{x:b[0],y:y0,width:b[1],height:h,fill:'#fff',stroke:'#888'},bb);
E('line',{x1:b[0],y1:y0+10,x2:b[0]+b[1],y2:y0+10,stroke:'#999','stroke-dasharray':'2,2'},bb);
E('line',{x1:b[0],y1:y0+h-12,x2:b[0]+b[1],y2:y0+h-12,stroke:'#999','stroke-dasharray':'2,2'},bb);
const bw=b[1]/9.6;BV[k].forEach((v,i)=>{E('rect',{x:b[0]+3+i*b[1]/9.3,y:y0+h-v*(h-8),width:bw*0.85,height:v*(h-8),fill:magma(i/8*0.95+0.02)},bb);
E('line',{x1:b[0]+6+i*b[1]/9.3,y1:y0+h+3,x2:b[0]+i*b[1]/9.3-4,y2:y0+h+22,stroke:'#777','stroke-width':1.3},bb);});});
[[2300,690,35,30,magma(.85)],[2285,680,18,22,magma(.1)],[2318,672,16,14,magma(.65)],[2292,708,18,13,'#fbf3a8'],[2305,700,10,14,'#ccc']].forEach(p=>E('ellipse',{cx:p[0],cy:p[1],rx:p[2],ry:p[3],fill:p[4]},bb));
const lg=document.getElementById('lines');
E('rect',{x:1737,y:785,width:188,height:153,fill:'#fff',stroke:'#999'},lg);
E('rect',{x:1962,y:783,width:192,height:156,fill:'#fff',stroke:'#999'},lg);
const bxs=[1740,1799,1859,1919];const by=v=>860-v*27;
E('line',{x1:1737,y1:by(0),x2:1925,y2:by(0),stroke:'#f99','stroke-dasharray':'2,2'},lg);
for(let i=0;i<10;i++){const v=[(R()-0.6)*3,0,(R()-0.6)*4,(R()-0.7)*4];E('polyline',{points:v.map((y,j)=>bxs[j]+','+by(y)).join(' '),fill:'none',stroke:'#aaa','stroke-width':1},lg);}
E('polyline',{points:[[1740,by(-1.3)],[1799,by(0)],[1859,by(-1.5)],[1919,by(-2.3)]].map(p=>p.join(',')).join(' '),fill:'none',stroke:'#1e90ff','stroke-width':3},lg);
E('line',{x1:1742,y1:792,x2:1758,y2:792,stroke:'#1e90ff','stroke-width':3},lg);
const CX=e=>1965+e*3.8,CY=v=>939-(v-0.5)*312;
function curve(f,col){let p=[];for(let e=0;e<=49;e+=0.5)p.push(CX(e)+','+CY(f(e)));E('polyline',{points:p.join(' '),fill:'none',stroke:col,'stroke-width':1.8},lg);}
curve(e=>e<8?0.75+0.19*(1-Math.exp(-e/3)):(e<15?0.94-0.03*Math.sin((e-8)/7*Math.PI):0.935+0.01*(1-Math.exp(-(e-15)/5))),'#d9534f');
curve(e=>e<3?0.6+0.1*e:(e<12?0.89-0.02*(e-3):0.835+0.025*(1-Math.exp(-(e-12)/4))),'#4ad4f5');
curve(e=>e<3?0.6+0.1*e:(e<15?0.89-0.16*(1-Math.exp(-(e-3)/4)):0.705),'#33c3f0');
curve(e=>e<1?0.58-0.03*e:0.55+0.2*(1-Math.exp(-e/5))+0.0005*e,'#4a74c9');
[[903,'#d9534f'],[912,'#4ad4f5'],[921,'#4a74c9']].forEach(p=>E('line',{x1:2035,y1:p[0]-2,x2:2049,y2:p[0]-2,stroke:p[1],'stroke-width':1.5},lg));
const qg=document.getElementById('qr');
function qr(x0,y0,sz,n){const s=sz/n;E('rect',{x:x0,y:y0,width:sz,height:sz,fill:'#fff'},qg);
const fin=(i,j)=>{const c=[[0,0],[n-7,0],[0,n-7]];for(const q of c){const a=i-q[0],b=j-q[1];if(a>=-1&&a<=7&&b>=-1&&b<=7){if(a<0||b<0||a>6||b>6)return 0;if(a==0||b==0||a==6||b==6)return 1;if(a>=2&&a<=4&&b>=2&&b<=4)return 1;return 0;}}return -1;};
for(let i=0;i<n;i++)for(let j=0;j<n;j++){let v=fin(i,j);if(v<0)v=R()<0.5?1:0;if(v)E('rect',{x:x0+i*s,y:y0+j*s,width:s+0.3,height:s+0.3,fill:'#000'},qg);}}
qr(1777,981,158,29);qr(2118,980,160,29);
</script>
</body></html>
